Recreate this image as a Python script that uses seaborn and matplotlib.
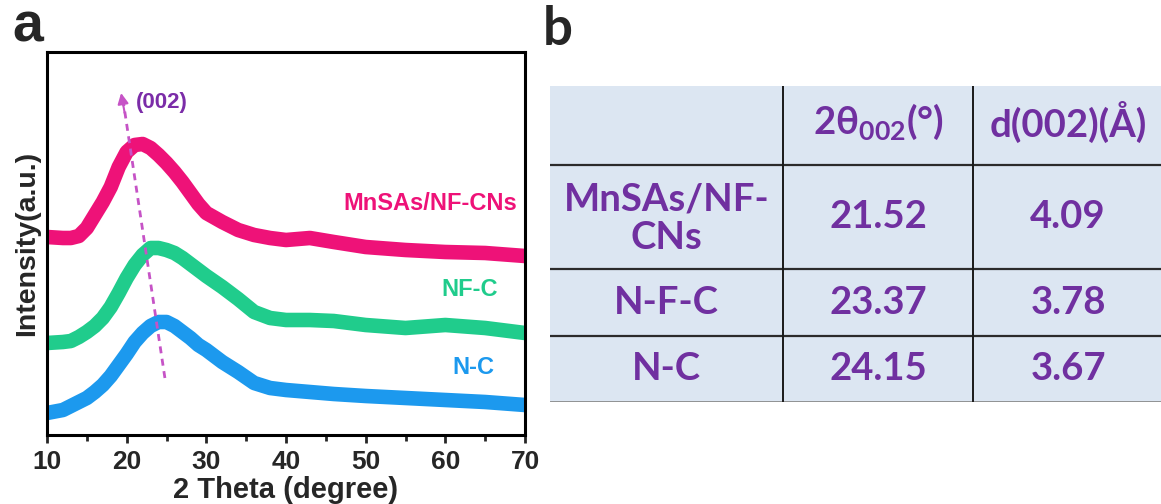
import numpy as np
import pandas as pd
import matplotlib
matplotlib.use("Agg")
import matplotlib.pyplot as plt
import seaborn as sns

# ---------------- data ----------------
two_theta = [10, 12, 13, 14, 15, 16, 17, 18, 19, 20, 21, 22, 23, 24, 25, 26,
             27, 28, 29, 30, 32, 34, 36, 38, 40, 43, 46, 50, 55, 60, 65, 70]
mn_sas = [198, 197, 197, 199, 207, 220, 233, 248, 268, 283, 290, 291, 287, 280, 272, 263,
          253, 242, 231, 222, 213, 205, 200, 197, 195, 197, 193, 188, 185, 183, 182, 179]
nf_c = [92, 93, 94, 98, 103, 109, 117, 128, 142, 157, 170, 180, 187, 187, 185, 182,
        177, 171, 165, 159, 148, 136, 123, 117, 115, 115, 114, 110, 107, 110, 107, 102]
n_c = [22, 25, 29, 33, 37, 43, 50, 59, 70, 81, 93, 102, 109, 113, 113, 109,
       103, 97, 90, 85, 73, 63, 52, 47, 45, 43, 41, 39, 37, 35, 33, 30]
series_names = ["MnSAs/NF-CNs", "NF-C", "N-C"]
series_colors = ["#EE1278", "#20CC8C", "#1C99EE"]
x_ticks = [10, 20, 30, 40, 50, 60, 70]

# table b
table_samples = ["MnSAs/NF-\nCNs", "N-F-C", "N-C"]
table_2theta = ["21.52", "23.37", "24.15"]
table_d = ["4.09", "3.78", "3.67"]
table_headers = ["", r"2θ$_{002}$(°)", "d(002)(Å)"]

# ---------------- figure ----------------
sns.set_style("white")
plt.rcParams["font.family"] = ["Liberation Sans", "DejaVu Sans"]
plt.rcParams["font.weight"] = "bold"
plt.rcParams["mathtext.default"] = "regular"

W, H = 1161, 504
fig = plt.figure(figsize=(W / 100, H / 100), dpi=100)

# panel a axes
ax = fig.add_axes([47 / W, (H - 435) / H, (525 - 47) / W, (435 - 52) / H])

df = pd.concat([
    pd.DataFrame({"2theta": two_theta, "I": vals, "sample": name})
    for name, vals in zip(series_names, [mn_sas, nf_c, n_c])
])
sns.lineplot(data=df, x="2theta", y="I", hue="sample", hue_order=series_names,
             palette=series_colors, estimator=None, sort=True, linewidth=10.5,
             legend=False, ax=ax, solid_capstyle="butt", solid_joinstyle="round")

ax.set_xlim(10, 70)
ax.set_ylim(0, 383)
ax.set_xticks(x_ticks)
ax.set_xticks([15, 25, 35, 45, 55, 65], minor=True)
ax.set_yticks([])
ax.tick_params(axis="x", which="major", direction="out", length=6, width=2,
               labelsize=19, pad=5, bottom=True)
ax.tick_params(axis="x", which="minor", direction="out", length=4, width=2, bottom=True)
for lab in ax.get_xticklabels():
    lab.set_fontweight("bold")
    lab.set_fontsize(19)
for s in ax.spines.values():
    s.set_linewidth(2.2)
    s.set_color("black")
ax.set_xlabel("2 Theta (degree)", fontsize=21, fontweight="bold", va="top")
ax.xaxis.set_label_coords(0.5, -0.107)
ax.set_ylabel("Intensity(a.u.)", fontsize=20.5, fontweight="bold", labelpad=5)

# curve labels
label_pos = [(69.0, 232), (66.6, 145), (66.2, 67)]
for name, col, (lx, ly) in zip(series_names, series_colors, label_pos):
    ax.text(lx, ly, name, color=col, fontsize=17, fontweight="bold",
            ha="right", va="center")

# dashed (002) arrow
arrow_col = "#C653C6"
ax.plot([24.8, 19.6], [57, 332], color=arrow_col, lw=2, ls=(0, (2.5, 2.0)))
ax.annotate("", xy=(19.3, 342), xytext=(19.75, 322),
            arrowprops=dict(arrowstyle="-|>", color=arrow_col, lw=1.5,
                            mutation_scale=16, shrinkA=0, shrinkB=0))
ax.text(21.1, 333, "(002)", color="#7B2CA8", fontsize=16, fontweight="bold",
        ha="left", va="center")

fig.text(12 / W, 1 - 42 / H, "a", fontsize=40, fontweight="bold", ha="left",
         va="baseline")

# ---------------- panel b : table ----------------
tfont = ["Lato", "Noto Sans", "DejaVu Sans"]
purple = "#7030A0"
fig.text(543 / W, 1 - 45 / H, "b", fontsize=38, fontweight="bold", ha="left",
         va="baseline", family=tfont)

tb = fig.add_axes([550 / W, (H - 402) / H, (W - 550) / W, (402 - 86) / H])
tb.set_xlim(550, W)
tb.set_ylim(402, 86)
tb.set_facecolor("#DCE6F2")
for s in tb.spines.values():
    s.set_visible(False)
tb.set_xticks([])
tb.set_yticks([])

row_edges = [86, 165, 269, 336, 402]
col_edges = [550, 783, 973, W]
for y in row_edges[1:-1]:
    tb.axhline(y, color="#2b2b2b", lw=1.6)
tb.axhline(row_edges[-1], color="#8a8a8a", lw=2.0)
for xv in col_edges[1:-1]:
    tb.axvline(xv, color="#1a1a1a", lw=1.4)

col_centers = [(col_edges[i] + col_edges[i + 1]) / 2 for i in range(3)]
col_centers[2] = 1068
row_centers = [(row_edges[i] + row_edges[i + 1]) / 2 for i in range(4)]

tsize = 27.5
for c, htxt in enumerate(table_headers):
    if htxt:
        tb.text(col_centers[c], row_centers[0] - 4, htxt, ha="center", va="center",
                fontsize=tsize, fontweight="bold", color=purple, family=tfont)
rows = list(zip(table_samples, table_2theta, table_d))
for r, row in enumerate(rows):
    for c, val in enumerate(row):
        tb.text(col_centers[c], row_centers[r + 1] + (2 if "\n" in val else 0), val,
                ha="center", va="center", fontsize=tsize, fontweight="bold",
                color=purple, family=tfont, linespacing=1.17)

fig.savefig("out.png", dpi=100)
